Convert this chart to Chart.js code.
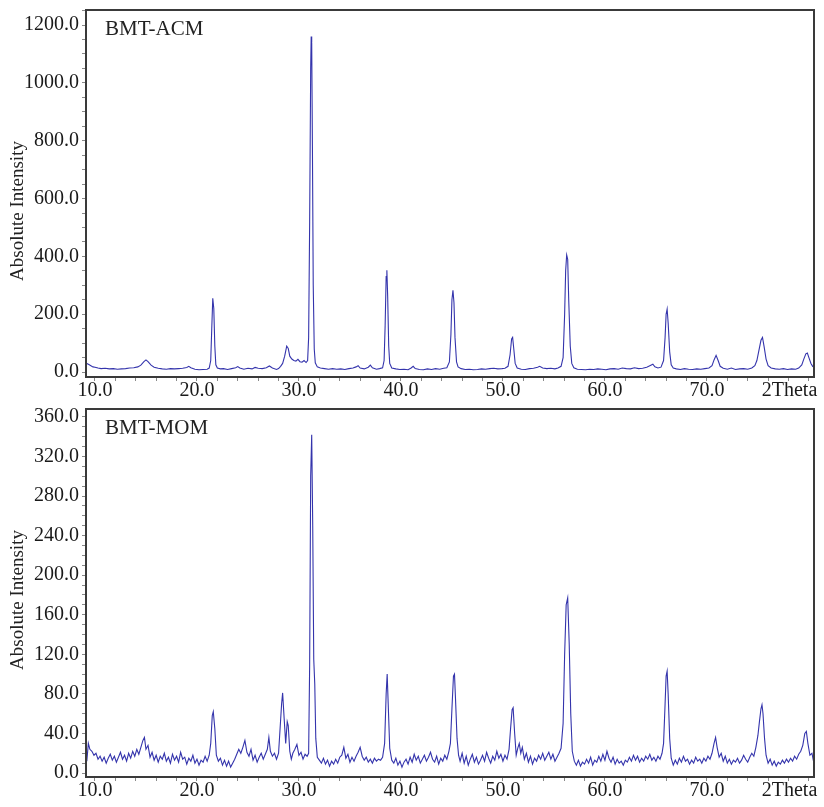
<!DOCTYPE html>
<html lang="en">
<head>
<meta charset="UTF-8">
<title>BMT XRD</title>
<script src="https://cdn.jsdelivr.net/npm/chart.js"></script>
<style>
    body { margin: 0; background: #fff; }
    .panel { position: absolute; left: 0; width: 824px; }
    #topBox { top: 0; height: 400px; }
    #bottomBox { top: 400px; height: 407px; }
</style>
</head>
<body>
<div class="panel" id="topBox"><canvas id="acmChart"></canvas></div>
<div class="panel" id="bottomBox"><canvas id="momChart"></canvas></div>

<script>
// x axis ticks (2Theta, degrees)
const xMajor = [10, 20, 30, 40, 50, 60, 70];
const xMinor = [12, 14, 16, 18, 22, 24, 26, 28, 32, 34, 36, 38, 42, 44, 46, 48, 52, 54, 56, 58, 62, 64, 66, 68, 72, 74, 76, 78, 80];
const xUnitLabel = '2Theta';
const xUnitPos = 78.1;

// y ticks
const acmMajor = [0, 200, 400, 600, 800, 1000, 1200];
const momMajor = [0, 40, 80, 120, 160, 200, 240, 280, 320, 360];

// BMT-ACM scan: [2theta, intensity]
const acmScan = [
    [9.2,30],[9.4,26],[9.6,22],[9.8,18],[10.0,17],[10.3,14],[10.6,12],[11.0,13],[11.4,11],[11.8,12],
    [12.2,10],[12.6,11],[13.0,12],[13.4,14],[13.8,15],[14.2,18],[14.5,24],[14.8,36],[15.0,42],[15.2,36],
    [15.5,24],[15.8,17],[16.2,13],[16.6,11],[17.0,10],[17.4,12],[17.8,11],[18.2,12],[18.6,13],[19.0,16],
    [19.2,20],[19.4,15],[19.8,10],[20.2,8],[20.6,9],[21.0,10],[21.2,14],[21.35,40],[21.45,150],[21.55,255],
    [21.65,220],[21.75,90],[21.85,25],[22.0,14],[22.3,11],[22.6,12],[23.0,9],[23.4,12],[23.8,15],[24.0,19],
    [24.2,14],[24.6,10],[25.0,13],[25.4,11],[25.7,16],[26.0,13],[26.4,12],[26.8,15],[27.1,21],[27.4,14],
    [27.8,9],[28.0,12],[28.2,20],[28.4,30],[28.6,55],[28.8,90],[28.95,82],[29.1,55],[29.3,45],[29.5,40],
    [29.7,38],[29.9,44],[30.1,36],[30.3,34],[30.5,40],[30.7,33],[30.85,40],[30.95,120],[31.05,520],[31.15,1050],
    [31.2,1160],[31.25,1140],[31.32,780],[31.4,300],[31.5,80],[31.6,32],[31.8,18],[32.1,14],[32.5,12],[32.9,10],
    [33.3,12],[33.7,10],[34.1,11],[34.5,9],[34.9,12],[35.3,14],[35.6,18],[35.8,22],[36.0,14],[36.4,11],
    [36.8,17],[37.0,24],[37.2,15],[37.6,10],[37.9,12],[38.2,15],[38.35,40],[38.45,160],[38.55,330],[38.62,352],
    [38.7,260],[38.8,90],[38.9,30],[39.1,14],[39.5,11],[39.9,9],[40.3,10],[40.7,8],[41.0,14],[41.2,20],
    [41.4,12],[41.8,9],[42.2,8],[42.6,11],[43.0,9],[43.4,12],[43.8,10],[44.2,13],[44.5,15],[44.75,35],
    [44.9,130],[45.0,250],[45.1,283],[45.2,240],[45.3,120],[45.45,35],[45.6,18],[45.9,12],[46.3,9],[46.7,10],
    [47.1,8],[47.5,9],[47.9,11],[48.3,10],[48.7,12],[49.1,13],[49.5,11],[49.9,12],[50.2,13],[50.5,20],
    [50.7,60],[50.85,115],[50.95,120],[51.05,85],[51.2,30],[51.4,14],[51.8,10],[52.2,9],[52.6,12],[53.0,13],
    [53.4,17],[53.6,20],[53.9,14],[54.3,12],[54.7,13],[55.1,11],[55.4,14],[55.7,20],[55.9,50],[56.05,200],
    [56.15,350],[56.25,405],[56.35,390],[56.45,250],[56.6,90],[56.75,30],[56.95,15],[57.3,10],[57.7,9],[58.1,8],
    [58.5,10],[58.9,9],[59.3,11],[59.7,10],[60.1,8],[60.5,11],[60.9,12],[61.3,10],[61.7,14],[62.1,12],
    [62.5,11],[62.9,15],[63.3,12],[63.7,13],[64.1,17],[64.4,22],[64.7,27],[64.9,18],[65.2,14],[65.5,17],
    [65.75,40],[65.9,120],[66.0,200],[66.1,218],[66.2,170],[66.35,70],[66.5,25],[66.7,14],[67.0,11],[67.4,9],
    [67.8,12],[68.2,10],[68.6,9],[69.0,11],[69.4,10],[69.8,12],[70.2,14],[70.5,22],[70.7,42],[70.9,58],
    [71.1,40],[71.3,20],[71.6,13],[72.0,10],[72.4,14],[72.8,9],[73.2,11],[73.6,12],[74.0,10],[74.4,14],
    [74.7,22],[74.9,40],[75.1,75],[75.3,110],[75.45,120],[75.6,90],[75.8,45],[76.0,22],[76.3,14],[76.7,11],
    [77.1,10],[77.5,12],[77.9,9],[78.3,11],[78.7,10],[79.0,14],[79.3,25],[79.5,45],[79.7,63],[79.85,66],
    [80.0,50],[80.2,30],[80.4,18]
];

// BMT-MOM scan: [2theta, intensity]
const momScan = [
    [9.2,12],[9.35,30],[9.5,24],[9.7,22],[9.9,18],[10.1,20],[10.3,14],[10.5,17],[10.7,12],[10.9,16],
    [11.1,10],[11.3,15],[11.5,19],[11.7,13],[11.9,17],[12.1,11],[12.3,16],[12.5,21],[12.7,14],[12.9,18],
    [13.1,12],[13.3,20],[13.5,15],[13.7,22],[13.9,17],[14.1,24],[14.3,19],[14.5,26],[14.7,33],[14.85,36],
    [15.0,24],[15.2,28],[15.4,16],[15.6,21],[15.8,13],[16.0,18],[16.2,11],[16.4,17],[16.6,14],[16.8,20],
    [17.0,12],[17.2,16],[17.4,10],[17.6,19],[17.8,13],[18.0,17],[18.2,11],[18.4,21],[18.6,14],[18.8,16],
    [19.0,9],[19.2,15],[19.4,12],[19.6,18],[19.8,10],[20.0,14],[20.2,8],[20.4,13],[20.6,11],[20.8,17],
    [21.0,12],[21.2,18],[21.35,30],[21.5,58],[21.6,62],[21.75,45],[21.9,18],[22.1,12],[22.3,15],[22.5,8],
    [22.7,13],[22.9,7],[23.1,12],[23.3,6],[23.5,10],[23.7,14],[23.9,19],[24.1,24],[24.3,20],[24.5,26],
    [24.7,33],[24.9,21],[25.1,17],[25.3,24],[25.5,13],[25.7,18],[25.9,11],[26.1,16],[26.3,20],[26.5,14],
    [26.7,19],[26.9,24],[27.05,36],[27.2,22],[27.4,17],[27.6,20],[27.8,14],[28.0,20],[28.15,45],[28.3,70],
    [28.4,81],[28.55,55],[28.7,30],[28.85,52],[28.95,48],[29.1,22],[29.25,14],[29.4,20],[29.6,24],[29.8,29],
    [30.0,18],[30.2,21],[30.4,14],[30.6,19],[30.8,17],[30.95,20],[31.05,110],[31.15,300],[31.25,342],[31.35,250],
    [31.45,115],[31.55,90],[31.65,35],[31.8,16],[32.0,13],[32.2,10],[32.4,15],[32.6,9],[32.8,13],[33.0,7],
    [33.2,12],[33.4,9],[33.6,14],[33.8,10],[34.0,16],[34.2,18],[34.4,26],[34.6,15],[34.8,19],[35.0,11],
    [35.2,16],[35.4,12],[35.6,17],[35.8,21],[36.0,26],[36.2,17],[36.4,13],[36.6,16],[36.8,11],[37.0,14],
    [37.2,10],[37.4,15],[37.6,12],[37.8,14],[38.0,13],[38.2,16],[38.4,30],[38.55,80],[38.65,100],[38.75,70],
    [38.9,25],[39.1,13],[39.3,10],[39.5,15],[39.7,8],[39.9,12],[40.1,6],[40.3,11],[40.5,14],[40.7,9],
    [40.9,16],[41.1,11],[41.3,19],[41.5,13],[41.7,17],[41.9,10],[42.1,14],[42.3,18],[42.5,12],[42.7,16],
    [42.9,21],[43.1,14],[43.3,11],[43.5,17],[43.7,9],[43.9,15],[44.1,12],[44.3,18],[44.5,14],[44.7,22],
    [44.85,30],[45.0,65],[45.15,98],[45.25,100],[45.35,75],[45.5,35],[45.65,18],[45.8,12],[46.0,20],[46.2,10],
    [46.4,17],[46.6,8],[46.8,14],[47.0,19],[47.2,11],[47.4,16],[47.6,9],[47.8,13],[48.0,18],[48.2,12],
    [48.4,21],[48.6,15],[48.8,10],[49.0,17],[49.2,13],[49.4,22],[49.6,15],[49.8,19],[50.0,12],[50.2,18],
    [50.4,14],[50.6,24],[50.75,45],[50.9,64],[51.0,66],[51.15,40],[51.3,18],[51.45,25],[51.6,30],[51.75,20],
    [51.9,26],[52.1,14],[52.3,20],[52.5,11],[52.7,17],[52.9,9],[53.1,15],[53.3,12],[53.5,18],[53.7,14],
    [53.9,20],[54.1,13],[54.3,17],[54.5,21],[54.7,14],[54.9,19],[55.1,12],[55.3,16],[55.5,20],[55.7,25],
    [55.9,50],[56.05,120],[56.2,170],[56.35,177],[56.5,130],[56.65,60],[56.8,22],[57.0,12],[57.2,8],[57.4,13],
    [57.6,7],[57.8,11],[58.0,9],[58.2,14],[58.4,10],[58.6,16],[58.8,8],[59.0,13],[59.2,11],[59.4,17],
    [59.6,12],[59.8,19],[60.0,13],[60.2,22],[60.4,15],[60.6,11],[60.8,16],[61.0,9],[61.2,14],[61.4,10],
    [61.6,12],[61.8,8],[62.0,13],[62.2,11],[62.4,16],[62.6,12],[62.8,18],[63.0,13],[63.2,17],[63.4,11],
    [63.6,15],[63.8,12],[64.0,17],[64.2,14],[64.4,19],[64.6,13],[64.8,16],[65.0,12],[65.2,17],[65.4,14],
    [65.6,20],[65.75,30],[65.9,70],[66.0,98],[66.1,103],[66.2,80],[66.35,35],[66.5,15],[66.7,8],[66.9,13],
    [67.1,9],[67.3,15],[67.5,11],[67.7,17],[67.9,12],[68.1,14],[68.3,9],[68.5,13],[68.7,10],[68.9,16],
    [69.1,12],[69.3,14],[69.5,10],[69.7,15],[69.9,12],[70.1,17],[70.3,14],[70.5,20],[70.7,30],[70.85,36],
    [71.0,26],[71.2,16],[71.4,20],[71.6,12],[71.8,17],[72.0,10],[72.2,14],[72.4,9],[72.6,13],[72.8,11],
    [73.0,15],[73.2,10],[73.4,13],[73.6,18],[73.8,14],[74.0,11],[74.2,16],[74.4,20],[74.6,17],[74.8,26],
    [75.0,38],[75.15,52],[75.3,65],[75.4,69],[75.5,60],[75.65,35],[75.8,18],[76.0,10],[76.2,14],[76.4,8],
    [76.6,12],[76.8,7],[77.0,11],[77.2,9],[77.4,13],[77.6,10],[77.8,14],[78.0,11],[78.2,15],[78.4,12],
    [78.6,17],[78.8,14],[79.0,19],[79.2,22],[79.4,28],[79.6,40],[79.75,42],[79.9,30],[80.1,18],[80.3,20],
    [80.45,12]
];

const serif = "'Liberation Serif', 'Times New Roman', serif";
const lineColor = 'rgb(52, 52, 172)';

// frame + panel name + rotated y title
const framePlugin = {
    id: 'frame',
    afterDraw(chart, args, opts) {
        const { ctx, chartArea: a } = chart;
        ctx.save();
        ctx.strokeStyle = '#3a3a3a';
        ctx.lineWidth = 2;
        ctx.strokeRect(a.left, a.top, a.right - a.left, a.bottom - a.top);
        ctx.fillStyle = '#222';
        ctx.font = '21px ' + serif;
        ctx.textBaseline = 'alphabetic';
        ctx.textAlign = 'left';
        ctx.fillText(opts.name, 105, opts.nameY);
        ctx.translate(18, opts.titleY);
        ctx.rotate(-Math.PI / 2);
        ctx.textAlign = 'center';
        ctx.textBaseline = 'middle';
        ctx.font = '19px ' + serif;
        ctx.fillText('Absolute Intensity', 0, 0);
        ctx.restore();
    }
};

function makeChart(id, scan, yMajor, yStep, yMin, yMax, pad, xHeight, plug) {
    const yTicks = [];
    for (let v = 0; v <= yMax; v += yStep) yTicks.push(v);
    const xTicks = xMajor.concat(xMinor).concat([xUnitPos]).sort((a, b) => a - b);

    return new Chart(document.getElementById(id), {
        type: 'line',
        data: {
            datasets: [{
                data: scan.map(p => ({ x: p[0], y: p[1] })),
                borderColor: lineColor,
                borderWidth: 1.1,
                pointRadius: 0,
                tension: 0,
                fill: false
            }]
        },
        options: {
            responsive: true,
            maintainAspectRatio: false,
            animation: false,
            layout: { padding: { left: 0, right: 10, top: pad, bottom: 0 } },
            plugins: { legend: { display: false }, tooltip: { enabled: false }, frame: plug },
            scales: {
                x: {
                    type: 'linear',
                    min: 9.12,
                    max: 80.5,
                    afterBuildTicks: s => { s.ticks = xTicks.map(v => ({ value: v })); },
                    afterFit: s => { s.height = xHeight; s.paddingLeft = 0; s.paddingRight = 0; },
                    grid: {
                        drawOnChartArea: false,
                        tickLength: 4,
                        tickColor: c => (c.tick && c.tick.value === xUnitPos) ? 'rgba(0,0,0,0)' : '#8a8a8a'
                    },
                    border: { display: false },
                    ticks: {
                        autoSkip: false,
                        maxRotation: 0,
                        padding: -2,
                        color: '#1a1a1a',
                        font: { family: serif, size: 20 },
                        callback: v => v === xUnitPos ? xUnitLabel : (xMajor.includes(v) ? v.toFixed(1) : '')
                    }
                },
                y: {
                    min: yMin,
                    max: yMax,
                    afterBuildTicks: s => { s.ticks = yTicks.map(v => ({ value: v })); },
                    afterFit: s => { s.width = 86; s.paddingTop = 0; s.paddingBottom = 0; },
                    grid: { drawOnChartArea: false, tickLength: 4, tickColor: '#8a8a8a' },
                    border: { display: false },
                    ticks: {
                        autoSkip: false,
                        padding: 3,
                        color: '#1a1a1a',
                        font: { family: serif, size: 20 },
                        callback: v => yMajor.includes(v) ? v.toFixed(1) : ''
                    }
                }
            }
        },
        plugins: [framePlugin]
    });
}

makeChart('acmChart', acmScan, acmMajor, 50, -17, 1252, 10, 23,
    { name: 'BMT-ACM', nameY: 35, titleY: 211 });
makeChart('momChart', momScan, momMajor, 10, -4, 368, 9, 30,
    { name: 'BMT-MOM', nameY: 34, titleY: 200 });
</script>
</body>
</html>
